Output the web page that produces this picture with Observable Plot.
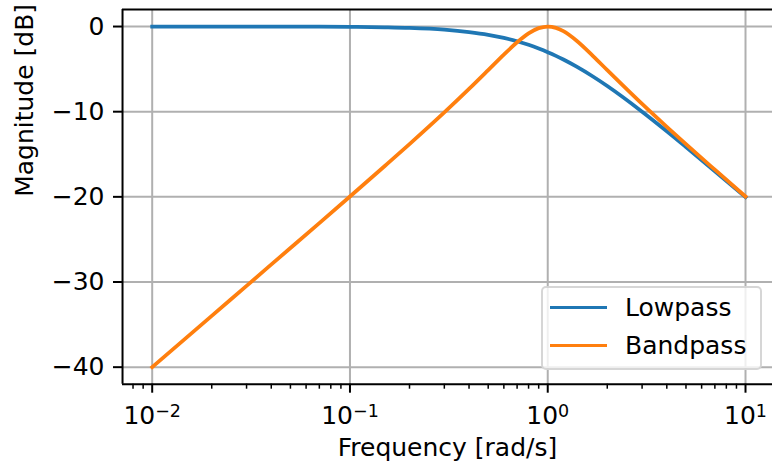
<!DOCTYPE html>
<html>
<head>
<meta charset="utf-8">
<script src="https://cdn.jsdelivr.net/npm/d3@7"></script>
<script src="https://cdn.jsdelivr.net/npm/@observablehq/plot@0.6"></script>
<style>
  html, body { margin: 0; padding: 0; background: #fff; overflow: hidden; }
  #wrap { position: relative; width: 772px; height: 466px; overflow: hidden; font-family: "DejaVu Sans", sans-serif; }
  #legend { position: absolute; left: 541px; top: 286px; width: 221px; height: 84px; box-sizing: border-box;
            border: 2.5px solid rgba(204,204,204,0.8); border-radius: 5px; background: rgba(255,255,255,0.8); }
  .row { position: absolute; left: 0; height: 25px; line-height: 25px; font-size: 25px; color: #000; white-space: nowrap; }
  .sw { position: absolute; left: 7px; top: 10.6px; width: 57px; height: 3.75px; }
  .lb { position: absolute; left: 82px; top: 0; }
</style>
</head>
<body>
<div id="wrap"></div>
<script>
// ---- data ----
const frequency = [0.01, 0.02, 0.03, 0.05, 0.07, 0.1, 0.15, 0.2, 0.3, 0.4, 0.5, 0.6, 0.7, 0.8, 0.9, 1, 1.1, 1.2, 1.4, 1.7, 2, 3, 4, 5, 7, 10];
const lowpassDb = [0, 0, 0, -0.01, -0.02, -0.04, -0.1, -0.17, -0.37, -0.65, -0.97, -1.34, -1.73, -2.15, -2.58, -3.01, -3.44, -3.87, -4.71, -5.9, -6.99, -10.0, -12.3, -14.15, -16.99, -20.04];
const bandpassDb = [-40.0, -33.98, -30.45, -26.01, -23.08, -19.96, -16.38, -13.81, -10.09, -7.33, -5.12, -3.3, -1.85, -0.8, -0.19, 0, -0.16, -0.55, -1.67, -3.5, -5.12, -9.09, -11.78, -13.81, -16.81, -19.96];
const seriesNames = ["Lowpass", "Bandpass"];
const seriesColors = ["#1f77b4", "#ff7f0e"];
const xTicks = [0.01, 0.1, 1, 10];
const xTickBase = "10";
const xTickExponents = ["−2", "−1", "0", "1"];
const xMinorTicks = [0.008, 0.009, 0.02, 0.03, 0.04, 0.05, 0.06, 0.07, 0.08, 0.09, 0.2, 0.3, 0.4, 0.5, 0.6, 0.7, 0.8, 0.9, 2, 3, 4, 5, 6, 7, 8, 9];
const yTicks = [0, -10, -20, -30, -40];
const xLabel = "Frequency [rad/s]";
const yLabel = "Magnitude [dB]";

const rows = [];
frequency.forEach((f, i) => {
  rows.push({f, db: lowpassDb[i], s: seriesNames[0]});
});
frequency.forEach((f, i) => {
  rows.push({f, db: bandpassDb[i], s: seriesNames[1]});
});

const xMin = Math.pow(10, -2.15), xMax = Math.pow(10, 1.15);
const yMin = -42, yMax = 2;
const FS = 25;

const chart = Plot.plot({
  width: 772,
  height: 466,
  marginLeft: 122,
  marginRight: 0,
  marginTop: 9,
  marginBottom: 82.3,
  style: {fontFamily: "DejaVu Sans, sans-serif", fontSize: FS + "px", color: "#000", background: "#fff"},
  x: {type: "log", domain: [xMin, xMax], range: [122.03, 774.67]},
  y: {domain: [yMin, yMax]},
  color: {domain: seriesNames, range: seriesColors},
  marks: [
    Plot.gridX(xTicks, {stroke: "#b0b0b0", strokeOpacity: 1, strokeWidth: 2}),
    Plot.gridY(yTicks, {stroke: "#b0b0b0", strokeOpacity: 1, strokeWidth: 2}),
    Plot.line(rows, {x: "f", y: "db", z: "s", stroke: "s", strokeWidth: 3.75, curve: "monotone-x", strokeLinecap: "square", strokeLinejoin: "round"}),
    Plot.ruleX([xMin], {stroke: "#000", strokeWidth: 2}),
    Plot.ruleY([yMax], {stroke: "#000", strokeWidth: 2}),
    Plot.ruleY([yMin], {stroke: "#000", strokeWidth: 2}),
    Plot.axisX(xMinorTicks, {tickSize: 5, strokeWidth: 1.5, tickFormat: () => "", label: null}),
    Plot.axisX(xTicks, {tickSize: 9, tickPadding: 12.8, strokeWidth: 2, fontSize: FS, label: null,
      tickFormat: (d) => xTickBase + xTickExponents[xTicks.indexOf(d)]}),
    Plot.axisY(yTicks, {tickSize: 9, tickPadding: 9, strokeWidth: 2, fontSize: FS, label: null,
      tickFormat: (d) => d < 0 ? "−" + Math.abs(d) : String(d)}),
    Plot.text([yLabel], {frameAnchor: "left", rotate: -90, dx: -98, fontSize: FS, text: d => d}),
    Plot.text([xLabel], {frameAnchor: "bottom", lineAnchor: "top", dy: 54.5, fontSize: FS, text: d => d})
  ]
});

// superscript exponents on the x tick labels
d3.select(chart).selectAll("text").each(function () {
  const t = this.textContent;
  if (t.startsWith(xTickBase) && xTickExponents.includes(t.slice(xTickBase.length))) {
    const exp = t.slice(xTickBase.length);
    const sel = d3.select(this);
    sel.text(null);
    sel.append("tspan").text(xTickBase);
    sel.append("tspan").attr("font-size", (FS * 0.7) + "px").attr("dy", "-7").text(exp);
  }
});

const wrap = document.getElementById("wrap");
wrap.appendChild(chart);

// legend
const legend = document.createElement("div");
legend.id = "legend";
const rowTops = [7, 45];
seriesNames.forEach((name, i) => {
  const r = document.createElement("div");
  r.className = "row";
  r.style.top = rowTops[i] + "px";
  const sw = document.createElement("span");
  sw.className = "sw";
  sw.style.background = seriesColors[i];
  const lb = document.createElement("span");
  lb.className = "lb";
  lb.textContent = name;
  r.appendChild(sw);
  r.appendChild(lb);
  legend.appendChild(r);
});
wrap.appendChild(legend);
</script>
</body>
</html>
